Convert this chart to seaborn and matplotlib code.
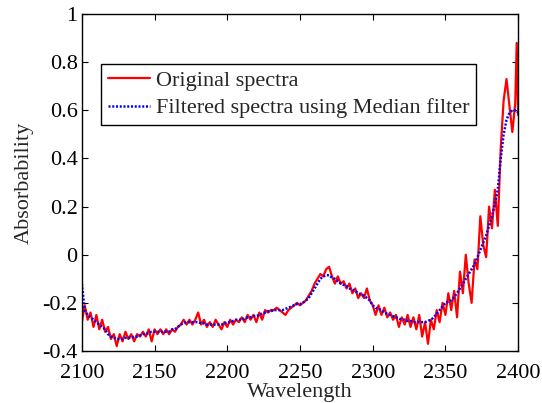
import matplotlib
matplotlib.use("Agg")
import matplotlib.pyplot as plt
import seaborn as sns
import pandas as pd
from matplotlib.ticker import FuncFormatter

wavelength = list(range(2100, 2400, 2)) + [2399, 2400]

original = [
    -0.28, -0.21, -0.27, -0.24, -0.30, -0.25, -0.31, -0.27, -0.32, -0.30,   # 2100-2118
    -0.35, -0.33, -0.38, -0.33, -0.36, -0.32, -0.35, -0.33, -0.36, -0.33,   # 2120-2138
    -0.34, -0.32, -0.34, -0.31, -0.36, -0.31, -0.33, -0.31, -0.33, -0.31,   # 2140-2158
    -0.33, -0.31, -0.32, -0.30, -0.29, -0.27, -0.29, -0.27, -0.29, -0.27,   # 2160-2178
    -0.24, -0.29, -0.27, -0.30, -0.28, -0.30, -0.27, -0.29, -0.31, -0.28,   # 2180-2198
    -0.30, -0.27, -0.29, -0.27, -0.28, -0.26, -0.28, -0.25, -0.27, -0.25,   # 2200-2218
    -0.28, -0.24, -0.27, -0.23, -0.24, -0.23, -0.23, -0.22, -0.23, -0.24,   # 2220-2238
    -0.25, -0.23, -0.22, -0.21, -0.20, -0.21, -0.20, -0.19, -0.17, -0.15,   # 2240-2258
    -0.12, -0.10, -0.08, -0.09, -0.06, -0.05, -0.09, -0.12, -0.09, -0.12,   # 2260-2278
    -0.11, -0.14, -0.12, -0.16, -0.14, -0.18, -0.16, -0.18, -0.14, -0.19,   # 2280-2298
    -0.21, -0.25, -0.21, -0.25, -0.22, -0.26, -0.24, -0.27, -0.25, -0.30,   # 2300-2318
    -0.26, -0.29, -0.25, -0.30, -0.26, -0.31, -0.25, -0.34, -0.28, -0.37,   # 2320-2338
    -0.27, -0.31, -0.23, -0.28, -0.20, -0.25, -0.16, -0.23, -0.15, -0.26,   # 2340-2358
    -0.07, -0.16, 0.00, -0.12, -0.20, -0.02, -0.06, 0.16, 0.04, -0.01,      # 2360-2378
    0.20, 0.11, 0.27, 0.12, 0.44, 0.64, 0.73, 0.62, 0.51, 0.63,             # 2380-2398
    0.88, 0.58,                                                             # 2399-2400
]

filtered = [
    -0.12, -0.23, -0.25, -0.26, -0.27, -0.28, -0.29, -0.30, -0.31, -0.33,
    -0.34, -0.345, -0.35, -0.35, -0.35, -0.345, -0.345, -0.345, -0.34, -0.34,
    -0.335, -0.33, -0.33, -0.325, -0.32, -0.32, -0.32, -0.32, -0.32, -0.32,
    -0.32, -0.31, -0.31, -0.30, -0.29, -0.285, -0.28, -0.28, -0.28, -0.28,
    -0.28, -0.285, -0.285, -0.29, -0.29, -0.29, -0.29, -0.29, -0.29, -0.285,
    -0.28, -0.28, -0.275, -0.27, -0.27, -0.27, -0.265, -0.26, -0.26, -0.255,
    -0.255, -0.25, -0.245, -0.24, -0.235, -0.235, -0.23, -0.23, -0.23, -0.23,
    -0.225, -0.22, -0.215, -0.21, -0.205, -0.205, -0.20, -0.19, -0.18, -0.16,
    -0.14, -0.12, -0.10, -0.09, -0.085, -0.085, -0.095, -0.10, -0.11, -0.12,
    -0.125, -0.13, -0.14, -0.145, -0.15, -0.16, -0.165, -0.17, -0.18, -0.19,
    -0.21, -0.22, -0.225, -0.23, -0.24, -0.245, -0.25, -0.255, -0.26, -0.265,
    -0.27, -0.27, -0.275, -0.275, -0.28, -0.28, -0.28, -0.28, -0.28, -0.275,
    -0.27, -0.26, -0.245, -0.23, -0.215, -0.20, -0.195, -0.19, -0.175, -0.16,
    -0.14, -0.12, -0.10, -0.08, -0.06, -0.04, -0.01, 0.02, 0.05, 0.08,
    0.12, 0.16, 0.21, 0.27, 0.40, 0.50, 0.56, 0.59, 0.60, 0.60,
    0.60, 0.59,
]

xticks = [2100, 2150, 2200, 2250, 2300, 2350, 2400]
yticks = [-0.4, -0.2, 0, 0.2, 0.4, 0.6, 0.8, 1]

sns.set_style("ticks")
plt.rcParams['font.family'] = ['Liberation Serif', 'DejaVu Serif']

df_o = pd.DataFrame({"Wavelength": wavelength, "Absorbability": original})
df_f = pd.DataFrame({"Wavelength": wavelength, "Absorbability": filtered})

fig = plt.figure(figsize=(5.42, 4.03), dpi=100)
ax = fig.add_axes([0.151, 0.129, 0.805, 0.836])

sns.lineplot(data=df_o, x="Wavelength", y="Absorbability", ax=ax,
             color="#ff0000", linewidth=1.6, label="Original spectra")
sns.lineplot(data=df_f, x="Wavelength", y="Absorbability", ax=ax,
             color="#0000ff", linewidth=1.8, linestyle=(0, (0.8, 0.7)),
             label="Filtered spectra using Median filter")

ax.set_xlim(2100, 2400)
ax.set_ylim(-0.4, 1)
ax.set_xticks(xticks)
ax.set_yticks(yticks)
ax.yaxis.set_major_formatter(FuncFormatter(lambda v, p: ("%g" % round(v, 2))))
ax.tick_params(direction="in", length=4, width=0.8, labelsize=16,
               top=True, right=True, colors="black")
ax.tick_params(axis="x", pad=9)
ax.tick_params(axis="y", pad=3)
for s in ax.spines.values():
    s.set_visible(True)
    s.set_linewidth(1.0)
    s.set_color("black")
ax.set_xlabel("Wavelength", fontsize=16, labelpad=0)
ax.set_ylabel("Absorbability", fontsize=16, labelpad=6)

leg = ax.legend(loc="upper left", bbox_to_anchor=(0.045, 0.852),
                borderaxespad=0, fontsize=16, frameon=True, fancybox=False,
                handlelength=1.9, handletextpad=0.25, borderpad=0.3,
                labelspacing=0.3, borderaxespad_unused=None) if False else ax.legend(
                loc="upper left", bbox_to_anchor=(0.045, 0.852),
                borderaxespad=0, fontsize=16, frameon=True, fancybox=False,
                handlelength=1.9, handletextpad=0.25, borderpad=0.3,
                labelspacing=0.3)
leg.get_frame().set_edgecolor("black")
leg.get_frame().set_linewidth(1.0)
leg.get_frame().set_alpha(1)

fig.savefig("out.png", dpi=100)
